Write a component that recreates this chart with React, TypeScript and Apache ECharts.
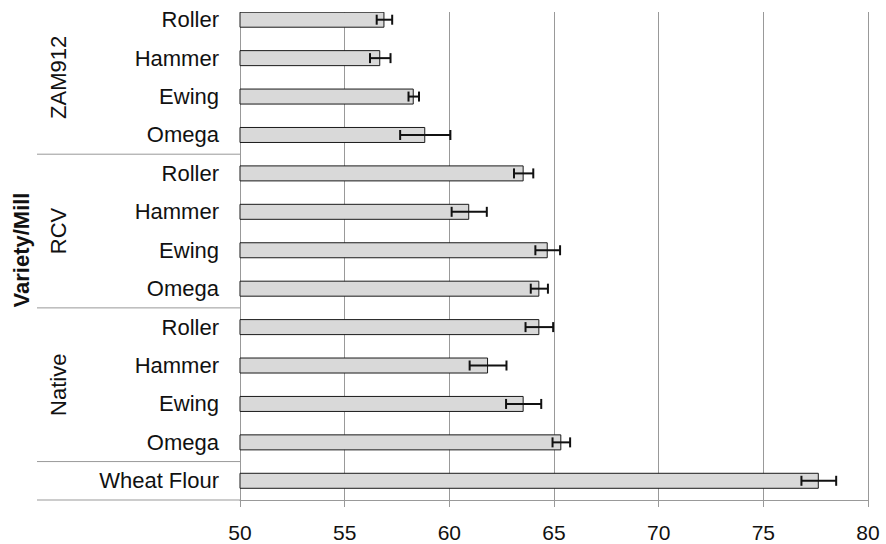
import React, { useEffect, useRef } from "react";
import * as echarts from "echarts";

// Mill labels, top to bottom
const categories = [
  "Roller", "Hammer", "Ewing", "Omega",
  "Roller", "Hammer", "Ewing", "Omega",
  "Roller", "Hammer", "Ewing", "Omega",
  "Wheat Flour",
];
// Mean values and ± error for each bar, same order as categories
const means = [56.9, 56.7, 58.3, 58.85, 63.55, 60.95, 64.7, 64.3, 64.3, 61.85, 63.55, 65.35, 77.65];
const errors = [0.37, 0.49, 0.25, 1.2, 0.46, 0.84, 0.59, 0.41, 0.66, 0.88, 0.84, 0.42, 0.83];

// Variety groups: name, first and last category index
const groupNames = ["ZAM912", "RCV", "Native", ""];
const groupFirst = [0, 4, 8, 12];
const groupLast = [3, 7, 11, 12];

const xMin = 50;
const xMax = 80;
const xStep = 5;

const FONT = "'Liberation Sans', Arial, sans-serif";
const GRID_GRAY = "#999999";

export default function App() {
  const ref = useRef<HTMLDivElement>(null);

  useEffect(() => {
    if (!ref.current) return;
    const chart = echarts.init(ref.current, null, { renderer: "svg" });

    const errData = means.map((m, i) => [i, m - errors[i], m + errors[i]]);
    const groupData = groupNames.map((_, i) => [xMin, groupFirst[i], groupLast[i]]);

    chart.setOption({
      animation: false,
      backgroundColor: "#ffffff",
      grid: { left: 240, right: 18, top: 0.5, bottom: 44, containLabel: false },
      xAxis: {
        type: "value",
        min: xMin,
        max: xMax,
        interval: xStep,
        axisLine: { show: true, lineStyle: { color: GRID_GRAY, width: 1 } },
        axisTick: { show: true, length: 7, lineStyle: { color: GRID_GRAY } },
        splitLine: { show: true, lineStyle: { color: GRID_GRAY, width: 1 } },
        axisLabel: { color: "#111", fontFamily: FONT, fontSize: 21, margin: 22 },
      },
      yAxis: {
        type: "category",
        inverse: true,
        data: categories,
        axisLine: { show: true, onZero: false, lineStyle: { color: GRID_GRAY, width: 1 } },
        axisTick: { show: false },
        splitLine: { show: false },
        axisLabel: { color: "#111", fontFamily: FONT, fontSize: 22, margin: 21 },
      },
      graphic: [
        {
          // plot frame starts level with the top of the first bar
          type: "rect",
          x: 236,
          y: 0,
          z: 10,
          shape: { width: 650, height: 12 },
          style: { fill: "#ffffff" },
        },
        {
          type: "text",
          x: 21,
          y: 250,
          rotation: Math.PI / 2,
          style: {
            text: "Variety/Mill",
            font: `bold 22px ${FONT}`,
            fill: "#111",
            textAlign: "center",
            textVerticalAlign: "middle",
          },
        },
      ],
      series: [
        {
          type: "bar",
          data: means,
          barWidth: 16,
          itemStyle: { color: "#d9d9d9", borderColor: "#1a1a1a", borderWidth: 1 },
          z: 2,
        },
        {
          type: "custom",
          data: errData,
          encode: { x: [1, 2], y: 0 },
          z: 3,
          renderItem: (_params: any, api: any) => {
            const idx = api.value(0);
            const lo = api.coord([api.value(1), idx]);
            const hi = api.coord([api.value(2), idx]);
            const cap = 5;
            const style = { stroke: "#111111", lineWidth: 2 };
            return {
              type: "group",
              children: [
                { type: "line", shape: { x1: lo[0], y1: lo[1], x2: hi[0], y2: hi[1] }, style },
                { type: "line", shape: { x1: lo[0], y1: lo[1] - cap, x2: lo[0], y2: lo[1] + cap }, style },
                { type: "line", shape: { x1: hi[0], y1: hi[1] - cap, x2: hi[0], y2: hi[1] + cap }, style },
              ],
            };
          },
        },
        {
          type: "custom",
          data: groupData,
          encode: { x: 0, y: [1, 2] },
          clip: false,
          silent: true,
          z: 1,
          renderItem: (params: any, api: any) => {
            const first = api.value(1);
            const last = api.value(2);
            const band = api.size([0, 1])[1];
            const top = api.coord([xMin, first]);
            const bot = api.coord([xMin, last]);
            const yTop = top[1] - band / 2;
            const yBot = bot[1] + band / 2;
            const name = groupNames[params.dataIndex];
            const children: any[] = [
              {
                type: "line",
                shape: { x1: 37, y1: yBot, x2: top[0], y2: yBot },
                style: { stroke: GRID_GRAY, lineWidth: 1 },
              },
            ];
            if (name) {
              children.push({
                type: "text",
                x: 58,
                y: (yTop + yBot) / 2,
                rotation: Math.PI / 2,
                style: {
                  text: name,
                  font: `22px ${FONT}`,
                  fill: "#111",
                  textAlign: "center",
                  textVerticalAlign: "middle",
                  align: "center",
                  verticalAlign: "middle",
                },
              });
            }
            return { type: "group", children };
          },
        },
      ],
    });

    return () => chart.dispose();
  }, []);

  return (
    <div
      ref={ref}
      style={{ position: "fixed", left: 0, top: 0, width: 886, height: 544, background: "#fff" }}
    />
  );
}
